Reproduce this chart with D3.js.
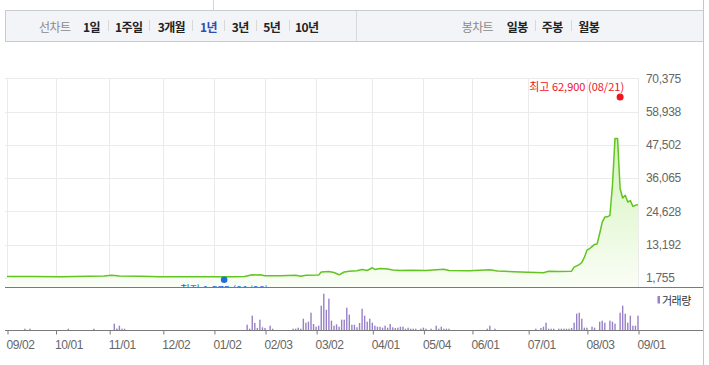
<!DOCTYPE html>
<html>
<head>
<meta charset="utf-8">
<script src="https://cdn.jsdelivr.net/npm/d3@7"></script>
<style>
  body { margin: 0; background: #fff; }
  svg text { font-family: "Liberation Sans", Arial, sans-serif; }
  svg .kr { font-family: "Noto Sans CJK KR", sans-serif; }
</style>
</head>
<body>
<svg id="chart" width="709" height="365"></svg>
<script>
// x axis labels (first trading day of each month) and their trading-day index
var tickLabels = ["09/02","10/01","11/01","12/02","01/02","02/03","03/02","04/01","05/04","06/01","07/01","08/03","09/01"];
var tickDays = [0,19,40,61,81,101,121,143,163,182,204,227,247];

// price axis labels
var priceTicks = [1755,13192,24628,36065,47502,58938,70375];

// closing price (won), by trading-day index
var priceDays  = [0,9,21,32,38,41,44,52,60,72,81,89,93,96,98,99,101,107,113,115,117,122,123,126,128,130,132,134,137,139,141,143,144,146,149,151,154,158,164,171,173,181,189,192,201,210,212,216,221,222,224,225,226,227,228,229,230,231,232,233,234,235,236,237,238,239,240,241,242,243,244,245,246,247];
var priceClose = [2200,2200,2130,2270,2380,2620,2380,2270,2130,2100,2100,2100,2200,2790,2720,2790,2450,2450,2620,2310,2650,2720,3750,3930,3580,2790,3750,4000,4170,4620,4270,5200,4620,4960,4790,4440,4270,4340,4270,4690,4270,4170,4510,4100,3750,3510,4000,3930,4030,5410,6300,7030,8750,11170,11750,12500,13240,13410,17000,20920,22650,22720,23200,33580,49700,49700,32400,29200,30130,27820,28310,26340,26690,26930];

// volume (thousand shares), by trading-day index
var volDays   = [7,9,24,34,42,43,44,45,46,94,95,96,97,98,99,100,101,103,104,112,113,114,115,116,117,118,119,120,121,122,123,124,125,126,127,128,129,130,131,132,133,134,135,136,137,138,139,140,141,142,143,144,145,146,147,148,149,150,151,152,153,154,155,156,157,158,159,160,162,163,164,166,168,169,170,171,172,173,188,189,191,207,209,210,211,212,213,214,216,217,218,219,220,221,222,223,224,225,226,227,229,230,232,233,234,236,237,238,240,241,242,243,244,245,246,247];
var volAmount = [330,330,330,330,1580,380,1080,330,330,1330,330,3580,1750,500,2580,680,500,1080,330,330,330,580,330,2830,1830,2080,4330,1500,830,1080,6080,9080,5080,7830,2330,1080,1430,830,2580,2580,5580,3830,1330,1330,680,1750,5330,3580,2080,2830,1830,1080,830,830,580,1080,580,1500,680,500,580,830,830,330,580,330,330,330,330,580,330,330,1080,330,830,330,330,330,330,1080,330,330,500,830,1830,330,330,330,330,330,330,330,330,500,1830,4080,4330,2830,580,580,830,580,2080,2330,1830,2330,2080,1580,4330,6080,4080,1830,3580,1080,1080,3580];

// 52-week high / low markers
var highDay = 240, highValue = 62900, highLabel = "최고 62,900 (08/21)";
var lowDay = 85, lowValue = 1575, lowLabel = "최저 1,575 (01/08)";

var svg = d3.select("#chart");

/* ---- top toolbar ---- */
svg.append("line").attr("x1",213.5).attr("x2",213.5).attr("y1",0).attr("y2",10)
  .attr("stroke","#d4d4d4");
svg.append("rect").attr("x",5.5).attr("y",10.5).attr("width",698).attr("height",31)
  .attr("fill","#f3f4f7").attr("stroke","#c9cbd0");
svg.append("line").attr("x1",356.5).attr("x2",356.5).attr("y1",11).attr("y2",41)
  .attr("stroke","#d6d8dc");

var menu = [
  ["선차트",39,"#8a8a8a",400],["1일",83,"#222",700],["1주일",115,"#222",700],
  ["3개월",157.7,"#222",700],["1년",200,"#2f4fb0",700],["3년",231.7,"#222",700],
  ["5년",263.3,"#222",700],["10년",295,"#222",700],
  ["봉차트",461.7,"#8a8a8a",400],["일봉",506.7,"#222",700],["주봉",541.7,"#222",700],["월봉",578.3,"#222",700]
];
svg.append("g").selectAll("text").data(menu).join("text")
  .attr("class","kr")
  .attr("x", function(d){ return d[1]; })
  .attr("y", 26)
  .attr("dominant-baseline","central")
  .style("font-size","12px")
  .style("letter-spacing","-0.6px")
  .style("font-weight", function(d){ return d[3]; })
  .attr("fill", function(d){ return d[2]; })
  .text(function(d){ return d[0]; });

var seps = [107.7,149,192.3,224,256,288.7,534.7,570.7];
svg.append("g").selectAll("line").data(seps).join("line")
  .attr("x1", function(d){ return Math.round(d)+0.5; })
  .attr("x2", function(d){ return Math.round(d)+0.5; })
  .attr("y1",20).attr("y2",31)
  .attr("stroke","#d8d8d8");

// right outer border
svg.append("line").attr("x1",703.5).attr("x2",703.5).attr("y1",0).attr("y2",365)
  .attr("stroke","#c6c6c6");

/* ---- scales ---- */
var x = d3.scaleLinear().domain([0,247]).range([7,638]);
var y = d3.scaleLinear().domain([1755,70375]).range([277.8,78.3]);
var yv = d3.scaleLinear().domain([0,10000]).range([330,290]);

var plotBottom = 287;

/* ---- grid ---- */
var grid = svg.append("g");
grid.selectAll(".hg").data(priceTicks).join("line")
  .attr("x1",5).attr("x2",638)
  .attr("y1", function(d){ return Math.round(y(d))+0.5; })
  .attr("y2", function(d){ return Math.round(y(d))+0.5; })
  .attr("stroke","#ebebeb");
grid.selectAll(".vg").data(tickDays).join("line")
  .attr("x1", function(d){ return Math.round(x(d))+0.5; })
  .attr("x2", function(d){ return Math.round(x(d))+0.5; })
  .attr("y1", Math.round(y(70375))).attr("y2", plotBottom)
  .attr("stroke","#ebebeb");

/* ---- price area + line ---- */
var defs = svg.append("defs");
var grad = defs.append("linearGradient").attr("id","areaGrad")
  .attr("x1",0).attr("y1",0).attr("x2",0).attr("y2",1);
grad.append("stop").attr("offset","0%").attr("stop-color","#d3f3ba");
grad.append("stop").attr("offset","100%").attr("stop-color","#fafef6");

defs.append("clipPath").attr("id","plotClip").append("rect")
  .attr("x",0).attr("y",0).attr("width",709).attr("height",plotBottom);

var prices = priceDays.map(function(d,i){ return {day: d, close: priceClose[i]}; });

svg.append("path").datum(prices)
  .attr("fill","url(#areaGrad)")
  .attr("d", d3.area().x(function(d){ return x(d.day); }).y0(plotBottom).y1(function(d){ return y(d.close); }));

svg.append("path").datum(prices)
  .attr("fill","none")
  .attr("stroke","#62c420")
  .attr("stroke-width",1.5)
  .attr("stroke-linejoin","round")
  .attr("d", d3.line().x(function(d){ return x(d.day); }).y(function(d){ return y(d.close); }));

/* ---- y labels ---- */
var yAxis = svg.append("g").attr("transform","translate(638,0)")
  .call(d3.axisRight(y).tickValues(priceTicks).tickFormat(d3.format(",")).tickSize(0).tickPadding(8));
yAxis.select(".domain").remove();
yAxis.selectAll("text").attr("fill","#666").style("font-size","12px").style("letter-spacing","-0.3px");

/* ---- high / low markers ---- */
svg.append("circle").attr("cx", x(highDay)).attr("cy", y(highValue) - 3).attr("r",3.5).attr("fill","#f0141e");
svg.append("text").attr("class","kr")
  .attr("x", x(highDay) + 4).attr("y", 91)
  .attr("text-anchor","end")
  .style("font-size","11px")
  .attr("fill","#f0141e")
  .text(highLabel);

svg.append("circle").attr("cx", x(lowDay)).attr("cy", y(lowValue) + 1.5).attr("r",3.3).attr("fill","#1b6fe0");
svg.append("text").attr("class","kr")
  .attr("clip-path","url(#plotClip)")
  .attr("x", x(lowDay)).attr("y", 293.5)
  .attr("text-anchor","middle")
  .style("font-size","11px")
  .attr("fill","#1b6fe0")
  .text(lowLabel);

/* ---- price pane bottom line ---- */
svg.append("line").attr("x1",5).attr("x2",703).attr("y1",plotBottom+0.5).attr("y2",plotBottom+0.5)
  .attr("stroke","#7a7a7a");

/* ---- volume ---- */
var vols = volDays.map(function(d,i){ return {day: d, vol: volAmount[i]}; });
svg.append("g").selectAll("rect").data(vols).join("rect")
  .attr("x", function(d){ return x(d.day) - 0.7; })
  .attr("width",1.4)
  .attr("y", function(d){ return yv(d.vol); })
  .attr("height", function(d){ return yv(0) - yv(d.vol); })
  .attr("fill","#9880c8");

// legend
svg.append("rect").attr("x",657.5).attr("y",296).attr("width",2.5).attr("height",7.5).attr("fill","#9880c8");
svg.append("text").attr("class","kr")
  .attr("x",662).attr("y",300).attr("dominant-baseline","central")
  .style("font-size","11px").style("letter-spacing","-0.5px")
  .attr("fill","#333").text("거래량");

/* ---- x axis ---- */
var xAxis = svg.append("g").attr("transform","translate(0,330.5)")
  .call(d3.axisBottom(x).tickValues(tickDays)
    .tickFormat(function(d,i){ return tickLabels[i]; })
    .tickSize(4).tickPadding(6));
xAxis.select(".domain").remove();
xAxis.selectAll(".tick line").attr("stroke","#7a7a7a").attr("transform","translate(0.5,0)");
xAxis.selectAll("text").attr("fill","#666").attr("text-anchor","start").attr("dx",-1)
  .style("font-size","12px").style("letter-spacing","-0.4px");
svg.append("line").attr("x1",5).attr("x2",703).attr("y1",330.5).attr("y2",330.5)
  .attr("stroke","#7a7a7a");
</script>
</body>
</html>
